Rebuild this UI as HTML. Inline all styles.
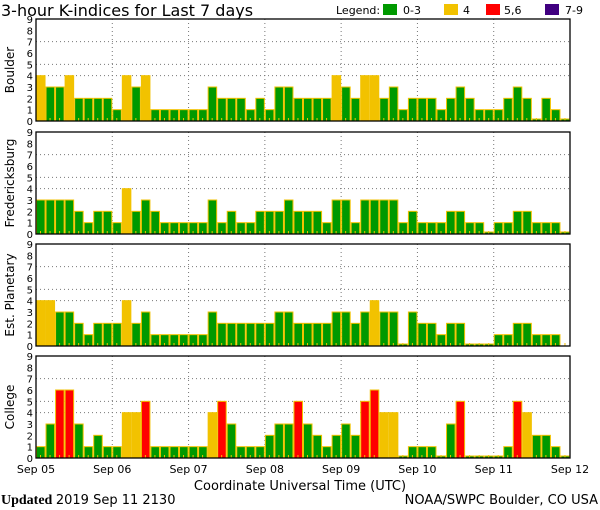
<!DOCTYPE html>
<html><head><meta charset="utf-8"><style>
html,body{margin:0;padding:0;background:#fff;}
svg{display:block;font-family:"DejaVu Sans","Liberation Sans",sans-serif;}
</style></head><body>
<svg id="s" width="600" height="510" xmlns="http://www.w3.org/2000/svg">
<text x="1" y="16" font-size="16" fill="#000">3-hour K-indices for Last 7 days</text>
<text x="336" y="14" font-size="11">Legend:</text>
<rect x="383" y="4" width="14" height="11" fill="#009900"/><text x="403" y="14" font-size="11">0-3</text>
<rect x="444" y="4" width="14" height="11" fill="#f2c200"/><text x="463" y="14" font-size="11">4</text>
<rect x="486" y="4" width="14" height="11" fill="#ff0000"/><text x="504" y="14" font-size="11">5,6</text>
<rect x="545" y="4" width="14" height="11" fill="#400080"/><text x="565" y="14" font-size="11">7-9</text>
<text x="300" y="490" font-size="13" text-anchor="middle">Coordinate Universal Time (UTC)</text>
<text x="1" y="504" font-size="14" font-family="Liberation Serif,serif" font-weight="bold">Updated <tspan font-family="DejaVu Sans,sans-serif" font-weight="normal" font-size="13">2019 Sep 11 2130</tspan></text>
<text x="598" y="504" font-size="13" text-anchor="end">NOAA/SWPC Boulder, CO USA</text>
</svg>
<script>
var s=document.getElementById('s'),NS='http://www.w3.org/2000/svg';
function el(t,a,txt){var e=document.createElementNS(NS,t);for(var k in a)e.setAttribute(k,a[k]);if(txt!=null)e.textContent=txt;s.appendChild(e);return e;}
var data={
"Boulder":[4,3,3,4,2,2,2,2,1,4,3,4,1,1,1,1,1,1,3,2,2,2,1,2,1,3,3,2,2,2,2,4,3,2,4,4,2,3,1,2,2,2,1,2,3,2,1,1,1,2,3,2,0,2,1,0],
"Fredericksburg":[3,3,3,3,2,1,2,2,1,4,2,3,2,1,1,1,1,1,3,1,2,1,1,2,2,2,3,2,2,2,1,3,3,1,3,3,3,3,1,2,1,1,1,2,2,1,1,0,1,1,2,2,1,1,1,0],
"Est. Planetary":[4,4,3,3,2,1,2,2,2,4,2,3,1,1,1,1,1,1,3,2,2,2,2,2,2,3,3,2,2,2,2,3,3,2,3,4,3,3,0,3,2,2,1,2,2,0,0,0,1,1,2,2,1,1,1,-1],
"College":[1,3,6,6,3,1,2,1,1,4,4,5,1,1,1,1,1,1,4,5,3,1,1,1,2,3,3,5,3,2,1,2,3,2,5,6,4,4,0,1,1,1,0,3,5,0,0,0,0,1,5,4,2,2,1,0]};
var tops=[19,132,244,356],H=102,X0=36,X1=570,W=(X1-X0)/56,U=H/9;
function col(v){return v<=3?'#009900':v==4?'#f2c200':v<=6?'#ff0000':'#400080';}
Object.keys(data).forEach(function(name,i){
 var t=tops[i],b=t+H,d=data[name];
 [4,5,7].forEach(function(v){var y=b-v*U;el('line',{x1:X0,x2:X1,y1:y,y2:y,stroke:'#777','stroke-dasharray':'1,3'});});
 for(var k=1;k<7;k++){var x=X0+k*8*W;el('line',{x1:x,x2:x,y1:t,y2:b,stroke:'#777','stroke-dasharray':'1,3'});}
 d.forEach(function(v,j){
  var x=X0+j*W;
  if(v>=0){var h=v==0?2:v*U;el('rect',{x:x+0.5,y:b-h,width:W-1,height:h,fill:col(v),stroke:'#f2c200','stroke-width':1});}
  el('rect',{x:x+4,y:b-3,width:1,height:3,fill:'#f2c200'});
 });
 el('rect',{x:X0,y:t,width:X1-X0,height:H,fill:'none',stroke:'#000','stroke-width':1.3});
 for(var v=0;v<=9;v++)el('text',{x:33,y:b-v*U+4,'font-size':10,'text-anchor':'end'},v);
 var cy=t+H/2;
 el('text',{x:0,y:0,'font-size':12,'text-anchor':'middle',transform:'translate(14,'+cy+') rotate(-90)'},name);
});
['Sep 05','Sep 06','Sep 07','Sep 08','Sep 09','Sep 10','Sep 11','Sep 12'].forEach(function(l,k){
 el('text',{x:X0+k*8*W,y:473,'font-size':11,'text-anchor':'middle'},l);});
</script>
</body></html>
